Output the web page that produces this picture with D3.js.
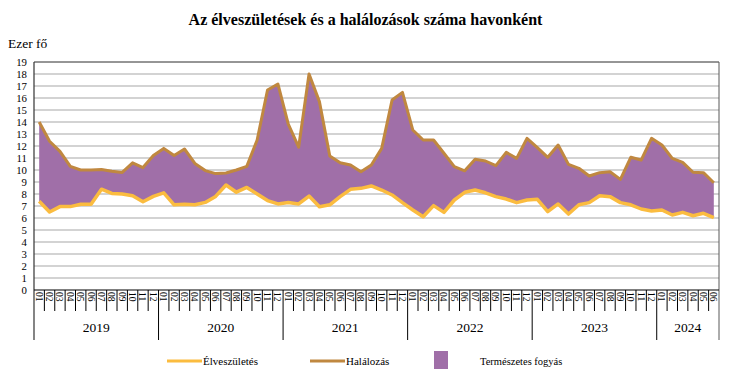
<!DOCTYPE html>
<html><head><meta charset="utf-8">
<script src="https://cdn.jsdelivr.net/npm/d3@7"></script>
<style>body{margin:0;background:#fff}svg{display:block}text{font-family:"Liberation Serif","Times New Roman",serif}</style>
</head><body><svg id="c" width="730" height="383"></svg>
<script>
const years = ["2019","2020","2021","2022","2023","2024"];
const monthLabels = ["01","02","03","04","05","06","07","08","09","10","11","12"];
const births = [
 7.4, 6.5, 6.95, 6.95, 7.15, 7.15, 8.4, 8.05, 8.0, 7.85, 7.35, 7.8,
 8.1, 7.1, 7.15, 7.1, 7.3, 7.8, 8.75, 8.15, 8.55, 8.0, 7.45, 7.17,
 7.3, 7.17, 7.83, 6.94, 7.1, 7.78, 8.39, 8.47, 8.67, 8.33, 7.92, 7.28,
 6.67, 6.1, 7.03, 6.47, 7.5, 8.14, 8.33, 8.1, 7.78, 7.58, 7.28, 7.5,
 7.56, 6.53, 7.17, 6.33, 7.1, 7.28, 7.86, 7.78, 7.28, 7.1, 6.75, 6.58,
 6.67, 6.25, 6.47, 6.19, 6.39, 6.03];
const deaths = [
 14.0, 12.4, 11.55, 10.3, 10.0, 10.0, 10.05, 9.9, 9.8, 10.6, 10.2, 11.2,
 11.8, 11.2, 11.75, 10.55, 9.95, 9.7, 9.75, 10.0, 10.3, 12.5, 16.67, 17.17,
 13.83, 11.9, 18.0, 15.7, 11.17, 10.6, 10.42, 9.86, 10.42, 11.8, 15.83, 16.47,
 13.33, 12.5, 12.5, 11.4, 10.28, 9.93, 10.9, 10.75, 10.36, 11.47, 10.97, 12.64,
 11.86, 11.06, 12.08, 10.47, 10.14, 9.5, 9.78, 9.86, 9.22, 11.06, 10.83, 12.64,
 12.08, 10.97, 10.64, 9.81, 9.78, 8.94];
const yTicks = d3.range(0, 20);
const seriesNames = ["Élveszületés", "Halálozás", "Természetes fogyás"];

const months = births.map((b, i) => ({key: years[Math.floor(i/12)] + "-" + monthLabels[i%12], m: monthLabels[i%12], y: years[Math.floor(i/12)], b, d: deaths[i]}));

const svg = d3.select("#c");
const L = 34, R = 719, T = 62, B = 290;
const x = d3.scaleBand().domain(months.map(d => d.key)).range([L, R]).padding(0);
const y = d3.scaleLinear().domain([0, 19]).range([B, T]);
const cx = d => x(d.key) + x.bandwidth()/2;

// title
svg.append("text").attr("x", 365.5).attr("y", 25).attr("text-anchor", "middle")
  .attr("font-size", 16).attr("font-weight", "bold").text("Az élveszületések és a halálozások száma havonként");
svg.append("text").attr("x", 8).attr("y", 48).attr("font-size", 13.5).text("Ezer fő");

// grid
svg.append("g").selectAll("line").data(yTicks.filter(t => t > 0)).join("line")
  .attr("x1", L).attr("x2", R).attr("y1", d => y(d)).attr("y2", d => y(d))
  .attr("stroke", "#c4c4c4").attr("stroke-width", 1.5);

// y axis
const yAxis = d3.axisLeft(y).tickValues(yTicks).tickSize(0).tickPadding(7).tickFormat(d3.format("d"));
const ga = svg.append("g").attr("transform", `translate(${L},0)`).call(yAxis);
ga.select(".domain").remove();
ga.selectAll("text").attr("font-size", 10.8).attr("font-family", "Liberation Serif, serif").attr("fill", "#000");

// area
svg.append("path").datum(months)
  .attr("d", d3.area().x(cx).y0(d => y(d.b)).y1(d => y(d.d)))
  .attr("fill", "#a06fa8");
// lines
svg.append("path").datum(months)
  .attr("d", d3.line().x(cx).y(d => y(d.d)))
  .attr("fill", "none").attr("stroke", "#c08840").attr("stroke-width", 3).attr("stroke-linejoin", "round");
svg.append("path").datum(months)
  .attr("d", d3.line().x(cx).y(d => y(d.b)))
  .attr("fill", "none").attr("stroke", "#fbbc3f").attr("stroke-width", 3.5).attr("stroke-linejoin", "round");

// plot border
svg.append("line").attr("x1", L).attr("x2", R).attr("y1", T).attr("y2", T).attr("stroke", "#595959").attr("stroke-width", 1);
svg.append("line").attr("x1", R).attr("x2", R).attr("y1", T).attr("y2", 340).attr("stroke", "#595959").attr("stroke-width", 1);
svg.append("line").attr("x1", L).attr("x2", L).attr("y1", T).attr("y2", 340).attr("stroke", "#333", ).attr("stroke-width", 1.2);
svg.append("line").attr("x1", L).attr("x2", R).attr("y1", B).attr("y2", B).attr("stroke", "#000").attr("stroke-width", 1.2);

// month ticks and labels
const gm = svg.append("g");
gm.selectAll("line").data(months.slice(1)).join("line")
  .attr("x1", d => x(d.key)).attr("x2", d => x(d.key))
  .attr("y1", B).attr("y2", d => d.m === "01" ? 340 : 311)
  .attr("stroke", "#000").attr("stroke-width", 1);
gm.selectAll("text").data(months).join("text")
  .attr("transform", d => `translate(${cx(d) - 3.5},${B + 2}) rotate(90)`)
  .attr("font-size", 9.5).attr("fill", "#000").text(d => d.m);

// year labels
const yearGroups = d3.groups(months, d => d.y);
svg.append("g").selectAll("text").data(yearGroups).join("text")
  .attr("x", g => (x(g[1][0].key) + x(g[1][g[1].length-1].key) + x.bandwidth())/2)
  .attr("y", 332).attr("text-anchor", "middle").attr("font-size", 13.5).text(g => g[0]);

// legend
const lg = svg.append("g").attr("font-size", 11);
lg.append("line").attr("x1", 167).attr("x2", 202).attr("y1", 361).attr("y2", 361).attr("stroke", "#fbbc3f").attr("stroke-width", 3);
lg.append("text").attr("x", 203).attr("y", 365).text(seriesNames[0]);
lg.append("line").attr("x1", 310).attr("x2", 345).attr("y1", 361).attr("y2", 361).attr("stroke", "#c08840").attr("stroke-width", 3);
lg.append("text").attr("x", 346).attr("y", 365).text(seriesNames[1]);
lg.append("rect").attr("x", 434).attr("y", 351).attr("width", 14).attr("height", 18).attr("fill", "#a06fa8");
lg.append("text").attr("x", 480).attr("y", 365).attr("font-size", 10.5).text(seriesNames[2]);
</script></body></html>
